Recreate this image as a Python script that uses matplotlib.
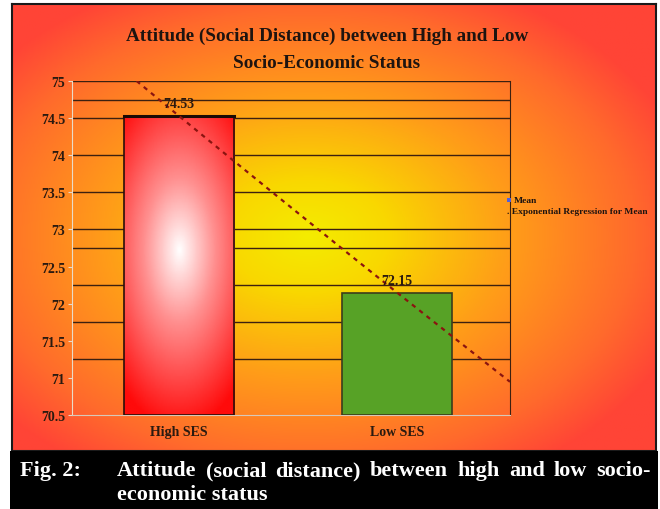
import numpy as np
import matplotlib
matplotlib.use("Agg")
import matplotlib.pyplot as plt
from matplotlib.colors import LinearSegmentedColormap
from matplotlib.patches import Rectangle

# data
categories = ["High SES", "Low SES"]
means = [74.53, 72.15]
bar_labels = ["74.53", "72.15"]
y_ticks = [70.5, 71, 71.5, 72, 72.5, 73, 73.5, 74, 74.5, 75]
grid_levels = [71.25, 71.75, 72.25, 72.75, 73, 73.5, 74, 74.5, 74.75, 75]
title_lines = ["Attitude (Social Distance) between High and Low", "Socio-Economic Status"]
legend_items = ["Mean", ". Exponential Regression for Mean"]
caption_label = "Fig. 2:"
caption_line1 = "Attitude (social distance) between high and low socio-"
caption_line2 = "economic status"

W, H = 660, 510
fig = plt.figure(figsize=(W / 100, H / 100), dpi=100)
fig.patch.set_facecolor("white")
serif = ["Liberation Serif", "DejaVu Serif"]


def fx(px):
    return px / W


def fy(py):
    return 1 - py / H


# gradient background of the chart panel
bg = fig.add_axes([fx(12), fy(452), fx(644), (452 - 5) / H])
yy, xx = np.mgrid[0:1:300j, 0:1:400j]
d = np.sqrt(((xx - 0.46) / 0.62) ** 2 + ((yy - 0.52) / 0.62) ** 2)
bg_cmap = LinearSegmentedColormap.from_list(
    "bg", [(0, "#f4ec00"), (0.2, "#f9d800"), (0.5, "#ff9e18"), (0.82, "#ff6a2c"), (1, "#ff4436")])
bg.imshow(np.clip(d, 0, 1), cmap=bg_cmap, vmin=0, vmax=1, aspect="auto", extent=[0, 1, 0, 1])
bg.set_xlim(0, 1)
bg.set_ylim(0, 1)
bg.set_xticks([])
bg.set_yticks([])
for s in bg.spines.values():
    s.set_color("#1a1a1a")
    s.set_linewidth(1.5)

# black caption band
fig.patches.append(Rectangle((fx(10), 0), fx(648), (H - 452) / H, transform=fig.transFigure,
                             facecolor="black", edgecolor="none", zorder=0))

ax = fig.add_axes([fx(72), fy(416), fx(438), 334 / H])
ax.patch.set_alpha(0)
x = np.arange(len(categories))
ax.set_xlim(-0.49, 1.518)
ax.set_ylim(70.5, 75)

for g in grid_levels:
    ax.axhline(g, color="#3c2010", linewidth=1.0, zorder=1)

bar_w = 0.505
bars = ax.bar(x, [m - 70.5 for m in means], bottom=70.5, width=bar_w,
              color=["none", "#57a226"], edgecolor=["#2a1008", "#3c3c1c"], linewidth=1.2, zorder=3)

# radial highlight inside the first bar
hb = bars[0]
hy, hx = np.mgrid[0:1:200j, 0:1:100j]
hd = np.sqrt(((hx - 0.5) / 0.8) ** 2 + ((hy - 0.45) / 0.6) ** 2)
bar_cmap = LinearSegmentedColormap.from_list("hb", [(0, "#ffffff"), (0.4, "#ff9090"), (1, "#ff0a0a")])
im = ax.imshow(np.clip(hd, 0, 1), cmap=bar_cmap, vmin=0, vmax=1, aspect="auto", zorder=2,
               extent=[hb.get_x(), hb.get_x() + bar_w, 70.5, means[0]])
im.set_clip_path(hb)
ax.plot([hb.get_x(), hb.get_x() + bar_w], [means[0], means[0]], color="#1a0a05", linewidth=2.2, zorder=4)

for xi, m, lab in zip(x, means, bar_labels):
    ax.text(xi, m + 0.08, lab, ha="center", va="bottom", fontsize=10, fontweight="bold",
            family=serif, color="#2a1a10", zorder=6)

# exponential regression of the means
b = np.log(means[1] / means[0])
tx = np.linspace(-0.49, 1.518, 100)
ty = means[0] * np.exp(b * tx)
ax.plot(tx, ty, color="#8a1410", linewidth=1.6, linestyle=(0, (2.0, 2.2)), zorder=5)

ax.set_yticks(y_ticks)
ax.set_yticklabels([f"{t:g}" for t in y_ticks], fontsize=10, fontweight="bold", family=serif, color="#2a1a10")
ax.set_xticks(x)
ax.set_xticklabels(categories, fontsize=10, fontweight="bold", family=serif, color="#2a1a10")
ax.tick_params(axis="y", length=3, color="#e8d8c8", pad=2)
ax.tick_params(axis="x", length=0, pad=7)
ax.spines["left"].set_color("#eadcc8")
ax.spines["bottom"].set_color("#d8c8b8")
ax.spines["right"].set_color("#3c2010")
ax.spines["top"].set_visible(False)

# titles
fig.text(fx(327), fy(36), title_lines[0], ha="center", va="center", fontsize=13.8, fontweight="bold",
         family=serif, color="#1e1410")
fig.text(fx(327), fy(64), title_lines[1], ha="center", va="center", fontsize=13.8, fontweight="bold",
         family=serif, color="#1e1410")

# legend at the right side
fig.patches.append(Rectangle((fx(507), fy(203)), fx(4), 4 / H, transform=fig.transFigure,
                             facecolor="#5060e0", edgecolor="none"))
fig.text(fx(514), fy(201), legend_items[0], ha="left", va="center", fontsize=6.8, fontweight="bold",
         family=serif, color="#1e1410")
fig.text(fx(507), fy(212), legend_items[1], ha="left", va="center", fontsize=6.8, fontweight="bold",
         family=serif, color="#1e1410")

# caption, first line justified between two edges
cap_kw = dict(fontsize=16, fontweight="bold", family=serif, color="white", va="baseline")
fig.text(fx(20), fy(476), caption_label, ha="left", **cap_kw)
words = caption_line1.split(" ")
fig.canvas.draw()
renderer = fig.canvas.get_renderer()
widths = []
for w in words:
    t = fig.text(0, 0, w, **cap_kw)
    widths.append(t.get_window_extent(renderer).width)
    t.remove()
left_px, right_px = 117, 651
gap = (right_px - left_px - sum(widths)) / (len(words) - 1)
pos = left_px
for w, wd in zip(words, widths):
    fig.text(fx(pos), fy(476), w, ha="left", **cap_kw)
    pos += wd + gap
fig.text(fx(117), fy(500), caption_line2, ha="left", **cap_kw)

fig.savefig("out.png", dpi=100)
